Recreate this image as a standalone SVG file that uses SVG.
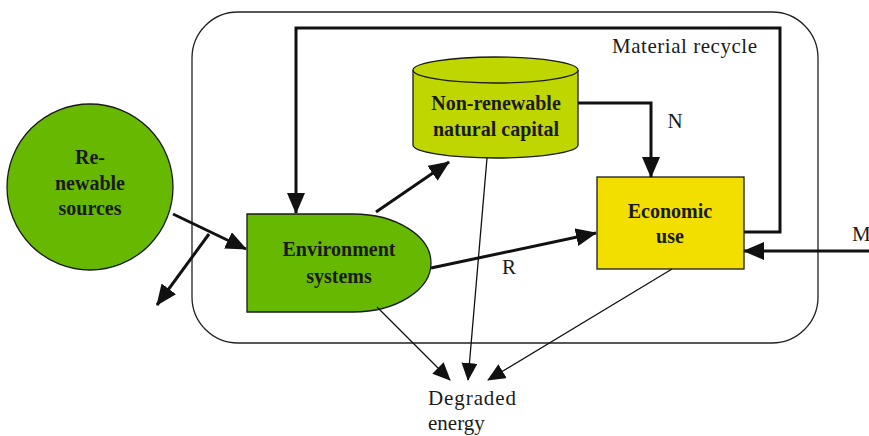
<svg xmlns="http://www.w3.org/2000/svg" width="869" height="436" viewBox="0 0 869 436">
  <style>
    .node { stroke: #1a1a1a; stroke-width: 1.3; }
    .lbl { font-family: "Liberation Serif", "Times New Roman", serif; font-weight: bold; font-size: 20px; fill: #1a1a1a; text-anchor: middle; }
    .txt { font-family: "Liberation Serif", "Times New Roman", serif; font-size: 21px; fill: #1a1a1a; }
    .thick { stroke: #111; stroke-width: 3; fill: none; }
    .thin { stroke: #111; stroke-width: 1.3; fill: none; }
  </style>
  <defs>
    <marker id="big" markerUnits="userSpaceOnUse" markerWidth="22" markerHeight="18" refX="20" refY="9" orient="auto">
      <path d="M0,0 L21,9 L0,18 Z" fill="#111"/>
    </marker>
    <marker id="small" markerUnits="userSpaceOnUse" markerWidth="18" markerHeight="16" refX="17" refY="8" orient="auto">
      <path d="M0,0 L18,8 L0,16 Z" fill="#111"/>
    </marker>
  </defs>
  <rect width="869" height="436" fill="#ffffff"/>

  <!-- system boundary -->
  <rect x="192" y="12" width="626" height="331" rx="46" ry="46" fill="none" stroke="#222" stroke-width="1.3"/>

  <g id="renewable-sources">
    <circle cx="90" cy="187" r="83" fill="#66b800" class="node"/>
    <text class="lbl" x="90" y="164">Re-</text>
    <text class="lbl" x="90" y="190">newable</text>
    <text class="lbl" x="90" y="215">sources</text>
  </g>

  <g id="environment-systems">
    <path d="M247,214 H353 A78,49 0 0 1 353,312 H247 Z" fill="#66b800" class="node"/>
    <text class="lbl" x="339" y="256">Environment</text>
    <text class="lbl" x="339" y="283">systems</text>
  </g>

  <g id="non-renewable-capital">
    <path d="M413,70 V145 A82.5,13 0 0 0 578,145 V70" fill="#bfd600" class="node"/>
    <ellipse cx="495.5" cy="70" rx="82.5" ry="13" fill="#bfd600" class="node"/>
    <text class="lbl" x="496" y="110">Non-renewable</text>
    <text class="lbl" x="496" y="136">natural capital</text>
  </g>

  <g id="economic-use">
    <rect x="597" y="177" width="147" height="92" fill="#f2df00" class="node"/>
    <text class="lbl" x="670" y="218">Economic</text>
    <text class="lbl" x="670" y="243">use</text>
  </g>

  <g id="degraded-energy">
    <text class="txt" x="428" y="405" textLength="88">Degraded</text>
    <text class="txt" x="428" y="430">energy</text>
  </g>

  <g id="connectors">
    <!-- renewable inflow and its outflow branch -->
    <line class="thick" x1="173" y1="214" x2="246" y2="249" marker-end="url(#big)"/>
    <line class="thick" x1="209" y1="234" x2="157" y2="305" marker-end="url(#big)"/>
    <!-- environment to stock -->
    <line class="thick" x1="376" y1="212" x2="449" y2="162" marker-end="url(#big)"/>
    <!-- R flow -->
    <line class="thick" x1="431" y1="268" x2="596" y2="233" marker-end="url(#big)"/>
    <text class="txt" x="509" y="274" text-anchor="middle">R</text>
    <!-- N flow -->
    <polyline class="thick" points="578,103 651,103 651,177" marker-end="url(#big)"/>
    <text class="txt" x="675" y="128" text-anchor="middle">N</text>
    <!-- material recycle loop -->
    <polyline class="thick" points="744,232 780,232 780,28 296,28 296,213" marker-end="url(#big)"/>
    <text class="txt" x="612" y="53" textLength="145">Material recycle</text>
    <!-- M inflow -->
    <line class="thick" x1="870" y1="251" x2="744" y2="251" marker-end="url(#big)"/>
    <text class="txt" x="852" y="241">M</text>
    <!-- degraded energy outflows -->
    <line class="thin" x1="377" y1="307" x2="450" y2="380" marker-end="url(#small)"/>
    <line class="thin" x1="487" y1="158" x2="468" y2="380" marker-end="url(#small)"/>
    <line class="thin" x1="672" y1="269" x2="488" y2="380" marker-end="url(#small)"/>
  </g>
</svg>
